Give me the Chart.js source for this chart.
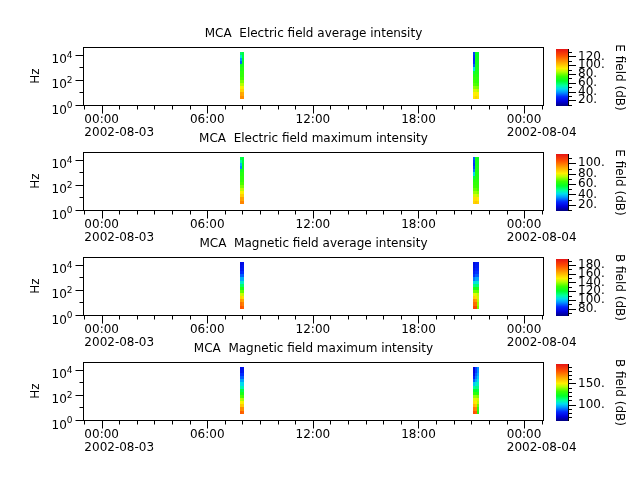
<!DOCTYPE html>
<html>
<head>
<meta charset="utf-8">
<script src="https://cdn.jsdelivr.net/npm/chart.js@4.4.0/dist/chart.umd.min.js"></script>
<style>
body { margin: 0; background: #fff; width: 640px; height: 480px; overflow: hidden; position: relative; }
canvas { position: absolute; }
</style>
</head>
<body>
<script>
Chart.defaults.font.family = "'DejaVu Sans', sans-serif"
Chart.defaults.font.size = 12
Chart.defaults.color = '#000'

// MCA channel frequencies (Hz), used as the cell edges
const FREQ_HZ = [3.16, 5.62, 10, 17.8, 31.6, 56.2, 100, 178, 316, 562, 1000, 1780, 3160, 5620, 10000, 17800]
// spectrogram columns, hours after 2002-08-03 00:00
const COL_START_H = [7.86, 7.97, 21.08, 21.22, 21.33]
const COL_END_H = [7.97, 8.07, 21.22, 21.33, 21.44]

// intensity in dB, one row per column, lowest channel first
const E_AVG_DB = [
	[111, 107, 98, 93, 85, 80, 75, 72, 72, 69, 66, 33, 38, 50, 59],
	[111, 106, 98, 92, 85, 80, 75, 73, 72, 71, 68, 67, 64, 62, 62],
	[95, 93, 88, 82, 77, 75, 72, 69, 62, 46, 33, 28, 27, 28, 30],
	[98, 94, 88, 81, 76, 73, 72, 71, 69, 68, 68, 67, 67, 66, 66],
	[95, 92, 85, 80, 75, 72, 71, 69, 68, 68, 67, 67, 66, 66, 64]
]
const E_MAX_DB = [
	[97, 93, 86, 81, 75, 70, 66, 63, 63, 61, 58, 33, 37, 47, 54],
	[97, 92, 86, 80, 75, 70, 66, 64, 63, 62, 60, 59, 57, 55, 55],
	[85, 83, 77, 72, 68, 65, 63, 61, 54, 41, 32, 28, 26, 27, 30],
	[87, 83, 77, 72, 68, 65, 64, 63, 62, 61, 61, 60, 60, 59, 59],
	[85, 81, 75, 70, 66, 64, 63, 62, 61, 61, 60, 60, 59, 59, 58]
]
const B_AVG_DB = [
	[178, 173, 165, 155, 144, 135, 126, 115, 106, 97, 89, 83, 79, 77, 76],
	[176, 170, 163, 152, 143, 134, 125, 115, 106, 97, 89, 84, 80, 79, 77],
	[181, 174, 168, 155, 147, 135, 125, 113, 102, 92, 85, 81, 79, 77, 76],
	[180, 173, 165, 153, 146, 135, 125, 114, 105, 96, 89, 85, 83, 81, 80],
	[136, 139, 142, 144, 142, 134, 125, 114, 105, 96, 89, 85, 83, 81, 80]
]
const B_MAX_DB = [
	[178, 169, 158, 150, 142, 133, 124, 118, 108, 102, 95, 88, 83, 77, 75],
	[176, 168, 157, 149, 141, 132, 124, 117, 108, 101, 95, 88, 83, 78, 76],
	[180, 172, 161, 153, 147, 139, 128, 120, 110, 99, 88, 80, 75, 72, 72],
	[177, 169, 158, 151, 147, 139, 128, 120, 112, 104, 96, 91, 88, 85, 85],
	[126, 129, 135, 142, 145, 137, 126, 118, 112, 107, 102, 99, 96, 93, 93]
]

const PANEL_DB = [E_AVG_DB, E_MAX_DB, B_AVG_DB, B_MAX_DB]
const TITLES = ['MCA  Electric field average intensity', 'MCA  Electric field maximum intensity',
	'MCA  Magnetic field average intensity', 'MCA  Magnetic field maximum intensity']
const CB_TITLES = ['E field (dB)', 'E field (dB)', 'B field (dB)', 'B field (dB)']
const CB_MIN = [7, 8, 63, 61]
const CB_MAX = [137, 118, 194, 196]
const CB_LABEL_STEP = [20, 20, 20, 50]

const X_MIN_H = -1.06
const X_MAX_H = 25.13
const Y_MAX_HZ = 43650
const X_TICK_HOURS = [0, 6, 12, 18, 24]
const X_TICK_TIMES = ['00:00', '06:00', '12:00', '18:00', '00:00']
const X_TICK_DATES = ['2002-08-03', '', '', '', '2002-08-04']

const CMAP = [
	[0.00, 0, 0, 130], [0.08, 0, 0, 220], [0.16, 0, 40, 255], [0.24, 0, 150, 255],
	[0.30, 0, 220, 240], [0.36, 0, 255, 160], [0.44, 0, 255, 40], [0.52, 60, 255, 0],
	[0.60, 180, 255, 0], [0.66, 255, 240, 0], [0.76, 255, 170, 0], [0.88, 255, 80, 0],
	[1.00, 230, 20, 20]
]

function colormap(p) {
	p = Math.min(1, Math.max(0, p))
	for (let i = 1; i < CMAP.length; i++) {
		if (p <= CMAP[i][0]) {
			const a = CMAP[i - 1], b = CMAP[i]
			const t = (p - a[0]) / (b[0] - a[0])
			const c = [1, 2, 3].map(j => Math.round(a[j] + (b[j] - a[j]) * t))
			return `rgb(${c[0]}, ${c[1]}, ${c[2]})`
		}
	}
	return 'rgb(230, 20, 20)'
}

function makeCanvas(left, top, w, h) {
	const c = document.createElement('canvas')
	c.width = w
	c.height = h
	c.style.left = left + 'px'
	c.style.top = top + 'px'
	c.style.width = w + 'px'
	c.style.height = h + 'px'
	document.body.appendChild(c)
	return c
}

// cells of the spectrogram, placed through the chart scales
const spectrogramPlugin = {
	id: 'spectrogram',
	beforeDatasetsDraw(chart, args, opts) {
		const k = opts.panel
		const { ctx, scales: { x, y } } = chart
		PANEL_DB[k].forEach((col, c) => {
			const x0 = Math.round(x.getPixelForValue(COL_START_H[c]))
			const x1 = Math.round(x.getPixelForValue(COL_END_H[c]))
			col.forEach((db, i) => {
				const y0 = Math.round(y.getPixelForValue(FREQ_HZ[i + 1]))
				const y1 = Math.round(y.getPixelForValue(FREQ_HZ[i]))
				ctx.fillStyle = colormap((db - CB_MIN[k]) / (CB_MAX[k] - CB_MIN[k]))
				ctx.fillRect(x0, y0, x1 - x0, y1 - y0)
			})
		})
	}
}

// frame, tick marks and the 10^n labels
const framePlugin = {
	id: 'frame',
	afterDraw(chart) {
		const { ctx, chartArea: a, scales: { x, y } } = chart
		const L = Math.round(a.left) + 0.5, R = Math.round(a.right) - 0.5
		const T = Math.round(a.top) + 0.5, B = Math.round(a.bottom) + 0.5
		ctx.save()
		ctx.strokeStyle = '#000'
		ctx.lineWidth = 1
		ctx.strokeRect(L, T, R - L, B - T)
		ctx.beginPath()
		x.ticks.forEach(t => {
			const px = Math.round(x.getPixelForValue(t.value)) + 0.5
			ctx.moveTo(px, B)
			ctx.lineTo(px, B + (t.value % 6 === 0 ? 8 : 4))
		})
		y.ticks.forEach(t => {
			const py = Math.round(y.getPixelForValue(t.value)) + 0.5
			const e = Math.round(Math.log10(t.value))
			ctx.moveTo(L, py)
			ctx.lineTo(L - (e % 2 === 0 ? 8 : 4), py)
		})
		ctx.stroke()
		ctx.fillStyle = '#000'
		ctx.textBaseline = 'alphabetic'
		y.ticks.forEach(t => {
			const e = Math.round(Math.log10(t.value))
			if (e % 2 !== 0) return
			const py = y.getPixelForValue(t.value)
			ctx.font = "9px 'DejaVu Sans'"
			const we = ctx.measureText(String(e)).width
			ctx.font = "12px 'DejaVu Sans'"
			const wb = ctx.measureText('10').width
			const xr = L - 11
			ctx.fillText('10', xr - we - wb, py + 8.5)
			ctx.font = "9px 'DejaVu Sans'"
			ctx.fillText(String(e), xr - we, py + 3)
		})
		ctx.restore()
	}
}

const colorbarPlugin = {
	id: 'colorbar',
	afterDraw(chart) {
		const { ctx, chartArea: a, scales: { y } } = chart
		const l = Math.round(a.left), r = Math.round(a.right)
		for (let py = Math.round(a.top); py < Math.round(a.bottom); py++) {
			ctx.fillStyle = colormap((y.getValueForPixel(py + 0.5) - y.min) / (y.max - y.min))
			ctx.fillRect(l, py, r - l, 1)
		}
		ctx.save()
		ctx.strokeStyle = '#000'
		ctx.lineWidth = 1
		ctx.beginPath()
		ctx.moveTo(r + 0.5, Math.round(a.top))
		ctx.lineTo(r + 0.5, Math.round(a.bottom))
		y.ticks.forEach(t => {
			const py = Math.round(y.getPixelForValue(t.value)) + 0.5
			ctx.moveTo(r, py)
			ctx.lineTo(r + (t.label !== '' ? 8 : 4), py)
		})
		ctx.stroke()
		ctx.restore()
	}
}

function panelChart(k) {
	const canvas = makeCanvas(0, 105 * k, 640, 145)
	return new Chart(canvas, {
		type: 'scatter',
		data: { datasets: [] },
		options: {
			responsive: false,
			animation: false,
			devicePixelRatio: 1,
			events: [],
			layout: { padding: { left: 0, right: 96, top: 26.6, bottom: 0 } },
			plugins: {
				legend: { display: false },
				tooltip: { enabled: false },
				title: {
					display: true, text: TITLES[k], fullSize: false, color: '#000',
					font: { size: 12, weight: 'normal' }, padding: { top: 0, bottom: 6 }
				},
				spectrogram: { panel: k }
			},
			scales: {
				x: {
					type: 'linear', min: X_MIN_H, max: X_MAX_H,
					afterBuildTicks: s => {
						const t = []
						for (let h = -1; h <= 25; h++) t.push({ value: h })
						s.ticks = t
					},
					afterFit: s => { s.height = 40 },
					grid: { display: false, drawTicks: false },
					border: { display: false },
					ticks: {
						autoSkip: false, maxRotation: 0, minRotation: 0,
						align: 'start', labelOffset: -17.3, padding: 8.5,
						font: { size: 12, lineHeight: 1.05 },
						callback: v => {
							const i = X_TICK_HOURS.indexOf(v)
							if (i < 0) return ''
							return X_TICK_DATES[i] ? [X_TICK_TIMES[i], X_TICK_DATES[i]] : X_TICK_TIMES[i]
						}
					}
				},
				y: {
					type: 'logarithmic', min: 1, max: Y_MAX_HZ,
					afterBuildTicks: s => { s.ticks = [1, 10, 100, 1000, 10000].map(v => ({ value: v })) },
					afterFit: s => { s.width = 83 },
					grid: { display: false, drawTicks: false },
					border: { display: false },
					ticks: { display: false },
					title: { display: true, text: 'Hz', font: { size: 12 }, padding: { top: 28.8, bottom: 0 } }
				}
			}
		},
		plugins: [spectrogramPlugin, framePlugin]
	})
}

function colorbarChart(k) {
	const canvas = makeCanvas(540, 105 * k, 100, 140)
	return new Chart(canvas, {
		type: 'scatter',
		data: { datasets: [] },
		options: {
			responsive: false,
			animation: false,
			devicePixelRatio: 1,
			events: [],
			layout: { padding: { left: 16, right: 0, top: 49, bottom: 34 } },
			plugins: { legend: { display: false }, tooltip: { enabled: false } },
			scales: {
				x: { display: false, min: 0, max: 1 },
				y: {
					type: 'linear', position: 'right', min: CB_MIN[k], max: CB_MAX[k],
					afterBuildTicks: s => {
						const t = []
						for (let v = Math.ceil(CB_MIN[k] / 10) * 10; v <= CB_MAX[k]; v += 10) t.push({ value: v })
						s.ticks = t
					},
					afterFit: s => { s.width = 72 },
					grid: { display: false, drawTicks: false },
					border: { display: false },
					ticks: {
						autoSkip: false, padding: 10, font: { size: 12 },
						callback: v => (v % CB_LABEL_STEP[k] === 0 ? v + '.' : '')
					},
					title: { display: true, text: CB_TITLES[k], font: { size: 12 }, padding: { top: 14, bottom: 0 } }
				}
			}
		},
		plugins: [colorbarPlugin]
	})
}

for (let k = 0; k < 4; k++) {
	panelChart(k)
	colorbarChart(k)
}
</script>
</body>
</html>
